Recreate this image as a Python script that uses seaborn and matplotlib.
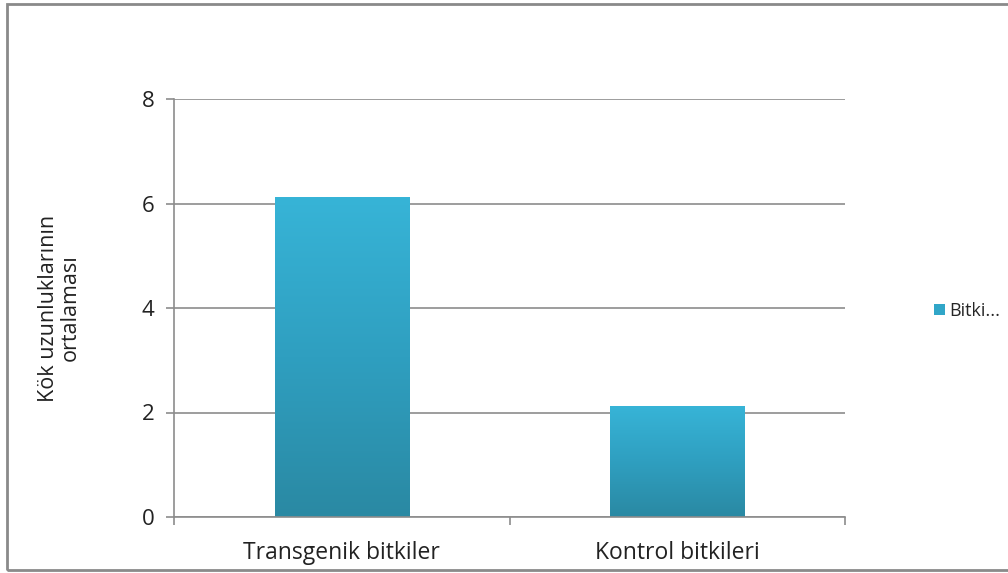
import numpy as np
import pandas as pd
import matplotlib
matplotlib.use("Agg")
import matplotlib.pyplot as plt
import seaborn as sns
from matplotlib.colors import LinearSegmentedColormap
from matplotlib.patches import Rectangle

categories = ["Transgenik bitkiler", "Kontrol bitkileri"]
values = [6.12, 2.12]
series_name = "Bitki..."
y_label = "Kök uzunluklarının\nortalaması"
y_ticks = [0, 2, 4, 6, 8]

sns.set_theme(style="white")
plt.rcParams["font.family"] = ["Open Sans", "DejaVu Sans"]

df = pd.DataFrame({"cat": categories, "val": values})
FS = 16.5
TXT = "#222222"

fig = plt.figure(figsize=(10.08, 5.73), dpi=100)
ax = fig.add_axes([174 / 1008, 1 - 517 / 573, (845 - 174) / 1008, (517 - 99) / 573])

sns.barplot(data=df, x="cat", y="val", ax=ax, width=0.4, color="#33aed2",
            edgecolor="none", legend=False)

ax.set_ylim(0, 8)
ax.set_xlim(-0.5, 1.5)
ax.set_yticks(y_ticks)
ax.yaxis.grid(True, color="#8c8c8c", linewidth=1.2)
ax.set_axisbelow(True)

# vertical gradient fill inside each bar
grad = LinearSegmentedColormap.from_list("bar", ["#2a89a3", "#2f9fc0", "#37b4d7"])
gradient = np.linspace(0, 1, 256).reshape(-1, 1)
for patch in ax.patches:
    x0, y0 = patch.get_x(), patch.get_y()
    w, h = patch.get_width(), patch.get_height()
    img = ax.imshow(gradient, cmap=grad, aspect="auto", origin="lower",
                    extent=[x0, x0 + w, y0, y0 + h], zorder=2)
    img.set_clip_path(patch)
    patch.set_facecolor("none")
ax.set_xlim(-0.5, 1.5)
ax.set_ylim(0, 8)

for side in ["top", "right"]:
    ax.spines[side].set_visible(False)
for side in ["left", "bottom"]:
    ax.spines[side].set_color("#8c8c8c")
    ax.spines[side].set_linewidth(1.2)

# category axis ticks sit between categories
ax.set_xticks([0, 1])
ax.set_xticklabels(categories)
ax.set_xticks([-0.5, 0.5, 1.5], minor=True)
ax.tick_params(axis="x", which="major", length=0, pad=17, labelsize=FS, colors=TXT)
ax.tick_params(axis="x", which="minor", length=6, width=1.2, color="#8c8c8c", direction="out", bottom=True)
ax.tick_params(axis="y", which="major", length=6, width=1.2, color="#8c8c8c", direction="out",
               left=True, pad=8, labelsize=FS - 0.5, labelcolor=TXT)

ax.set_xlabel("")
ax.set_ylabel(y_label, fontsize=FS - 1, color=TXT, labelpad=44, linespacing=1.05)

handles = [Rectangle((0, 0), 1, 1, facecolor="#31a6c8", edgecolor="none")]
fig.legend(handles, [series_name], loc="center left", bbox_to_anchor=(934 / 1008, 1 - 311 / 573),
           frameon=False, fontsize=13, handlelength=0.6, handleheight=0.6, handletextpad=0.25,
           borderaxespad=0, borderpad=0)

# outer chart frame
fig.patches.append(Rectangle((7 / 1008, 3 / 573), 1.2, 1 - 7 / 573, transform=fig.transFigure,
                             fill=False, edgecolor="#8a8a8a", linewidth=2))

fig.savefig("out.png", dpi=100)
